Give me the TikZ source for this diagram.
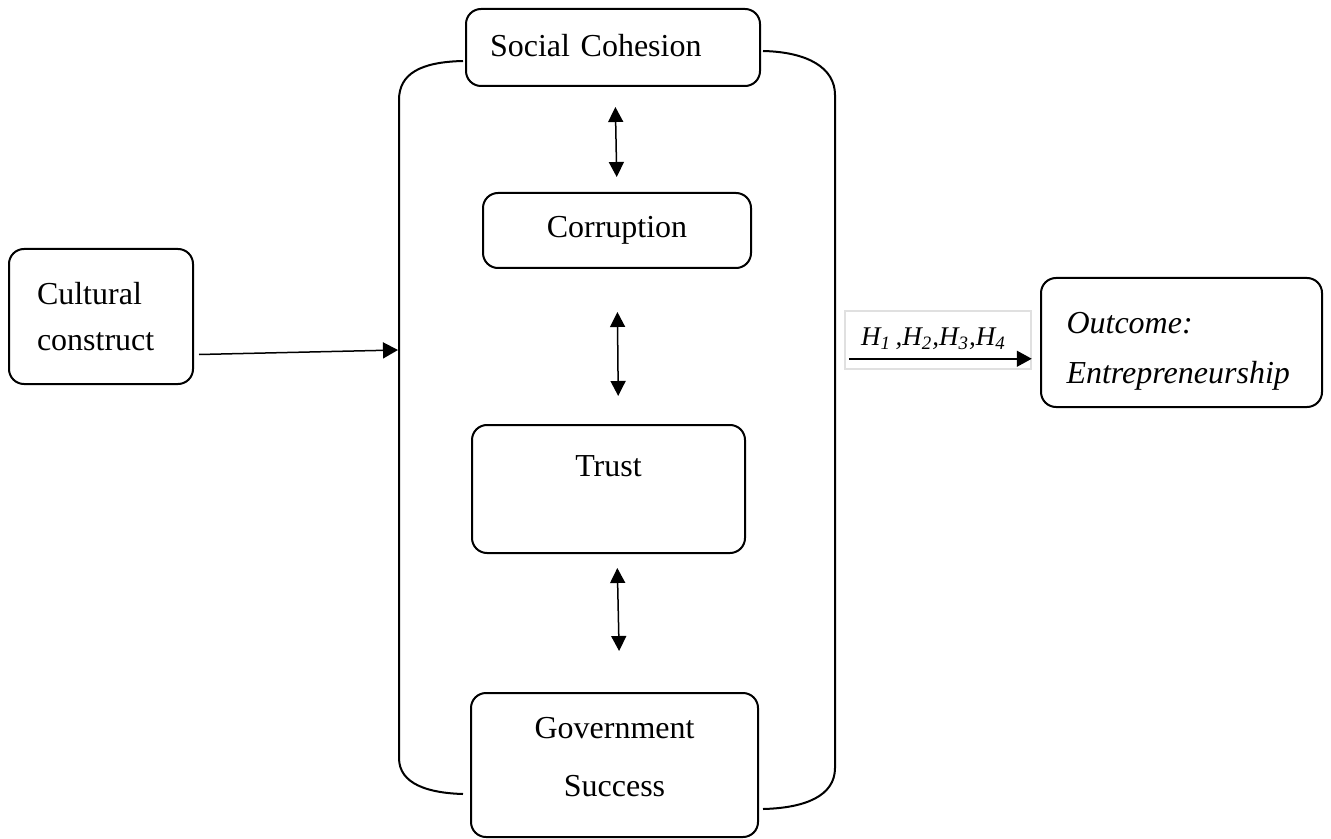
\documentclass[tikz,border=0pt]{standalone}
\usepackage{fontspec}
\setmainfont{Liberation Serif}
\usetikzlibrary{arrows.meta}
\begin{document}
\begin{tikzpicture}[x=0.5pt,y=-0.5pt,
  box/.style={draw, line width=1pt, rounded corners=7.5pt, inner sep=0pt,
    font=\fontsize{16}{24}\selectfont},
  link/.style={line width=0.75pt, -{Triangle[length=7.5pt,width=8pt]}},
  twoway/.style={line width=0.75pt, {Triangle[length=7.5pt,width=7.5pt]}-{Triangle[length=7.5pt,width=7.5pt]}},
  frame/.style={line width=1pt}]
\useasboundingbox (0,0) rectangle (1331,839);

% central column of factors
\node[box, minimum width=147pt, minimum height=38.5pt, text width=123pt, align=left]
  (social) at (613,47.5) {\raisebox{2pt}{Social Cohesion}};
\node[box, minimum width=134pt, minimum height=37.5pt, align=center]
  (corr) at (617,230.5) {\raisebox{-1pt}{Corruption}};
\node[box, minimum width=136.5pt, minimum height=64pt, align=center]
  (trust) at (608.5,489) {Trust\\[-1pt]\mbox{}};
\node[box, minimum width=143.5pt, minimum height=72pt, align=center]
  (gov) at (614.5,765) {Government\\[5pt]Success\rule[-8.5pt]{0pt}{8.5pt}};

% bracket enclosing the column
\coordinate (tl) at (463,61);
\coordinate (bl) at (463,794);
\coordinate (tr) at (763,51);
\coordinate (br) at (763,809);
\coordinate (inL) at (398,350);
\draw[frame] (tl) .. controls (420,62) and (399,74) .. (399,100) -- (399,758)
  .. controls (399,784) and (428,793) .. (bl);
\draw[frame] (tr) .. controls (808,52) and (835,68) .. (835,95) -- (835,768)
  .. controls (835,796) and (805,808) .. (br);

% two-way links between factors
\draw[twoway, shorten <=10pt, shorten >=7.5pt] ([xshift=1pt]social.south) -- (corr.north);
\draw[twoway, shorten <=21.5pt, shorten >=14pt] (corr.south) -- ([xshift=5pt]trust.north);
\draw[twoway, shorten <=7pt, shorten >=20.5pt] ([xshift=4.25pt]trust.south) -- ([xshift=2.75pt]gov.north);

% input construct
\node[box, minimum width=92pt, minimum height=67.5pt, text width=64pt, align=left]
  (cult) at (101,316.5) {Cultural\\[-1pt]construct};
\draw[link] ([xshift=2.5pt,yshift=-19pt]cult.east) -- (inL);

% outcome with hypotheses
\node[box, minimum width=140.5pt, minimum height=64.5pt, text width=115pt, align=left,
  font=\fontsize{16}{24}\selectfont\itshape]
  (out) at (1181.5,342.5) {\rule{0pt}{19pt}Outcome:\\[1pt]Entrepreneurship};
\node[draw=black!12, line width=0.75pt, minimum width=93pt, minimum height=29pt, inner sep=0pt]
  (hbox) at (938,340) {};
\node[inner sep=0pt, font=\fontsize{13.5}{16}\selectfont\itshape]
  (hlab) at (933.5,339) {H\textsubscript{1}\,,H\textsubscript{2},H\textsubscript{3},H\textsubscript{4}};
\draw[link] ([xshift=2.5pt,yshift=5.5pt]hbox.south west) -- ([yshift=5.5pt]hbox.south east);
\end{tikzpicture}
\end{document}
